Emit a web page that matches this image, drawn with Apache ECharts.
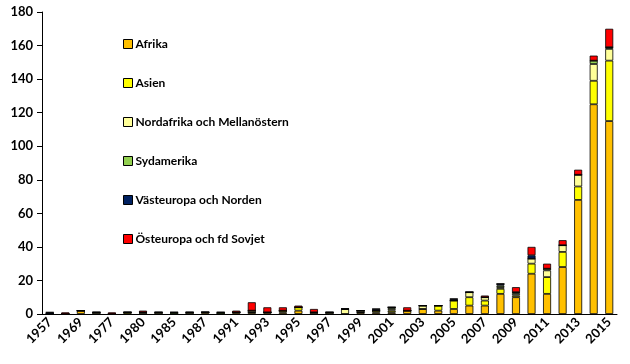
<!DOCTYPE html>
<html><head><meta charset="utf-8">
<script src="https://cdn.jsdelivr.net/npm/echarts@6/dist/echarts.min.js"></script>
<style>html,body{margin:0;padding:0;background:#fff}#c{width:630px;height:364px}</style>
</head><body><div id="c"></div>
<script>
var years = ['1957','1967','1969','1973','1977','1979','1980','1983','1985','1986','1987','1989','1991','1992','1993','1994','1995','1996','1997','1998','1999','2000','2001','2002','2003','2004','2005','2006','2007','2008','2009','2010','2011','2012','2013','2014','2015'];
var afrika      = [0,0,2,0,0,0,0,0,0,0,1,0,1,1,1,1,2,0,0,0,1,1,1,2,3,2,3,5,5,12,10,24,12,28,68,125,115];
var asien       = [0,0,0,0,0,1,0,0,0,0,0,0,0,0,0,1,2,0,0,0,0,1,1,0,0,3,5,5,3,3,1,6,10,9,8,14,36];
var nordafrika  = [0,0,0,1,0,0,1,1,0,1,0,0,0,1,0,0,0,1,1,3,1,0,1,0,2,0,0,3,2,1,1,3,4,4,7,10,7];
var sydamerika  = [0,0,0,0,0,0,0,0,1,0,0,1,0,0,0,0,0,0,0,0,0,0,1,0,0,0,0,0,0,1,1,0,1,0,0,2,1];
var vasteuropa  = [1,0,0,0,0,0,0,0,0,0,0,0,0,0,0,0,0,0,0,0,0,1,0,0,0,0,1,0,0,1,0,2,0,0,0,0,0];
var osteuropa   = [0,1,0,0,1,0,1,0,0,0,0,0,1,5,3,2,1,2,0,0,0,0,0,2,0,0,0,0,1,0,3,5,3,3,3,3,11];
var seriesNames = ['Afrika','Asien','Nordafrika och Mellanöstern','Sydamerika','Västeuropa och Norden','Östeuropa och fd Sovjet'];
var seriesData = [afrika, asien, nordafrika, sydamerika, vasteuropa, osteuropa];
var colors = ['#FFC000','#FFFF00','#FFFF99','#92D050','#002060','#FF0000'];

var font = 'Lato, "Open Sans", sans-serif';
var chart = echarts.init(document.getElementById('c'));
chart.setOption({
  animation: false,
  color: colors,
  grid: {left: 42, right: 13, top: 12, bottom: 50},
  legend: {
    orient: 'vertical', left: 118, top: 33, itemGap: 27,
    itemWidth: 9, itemHeight: 9, icon: 'rect',
    itemStyle: {borderColor: '#000', borderWidth: 1},
    textStyle: {fontFamily: font, fontWeight: 'bold', fontSize: 12, color: '#000', padding: [0,0,0,-2]},
    data: seriesNames
  },
  xAxis: {
    type: 'category', data: years,
    axisLine: {lineStyle: {color: '#000', width: 1}},
    axisTick: {interval: 0, length: 5, lineStyle: {color: '#000'}},
    axisLabel: {interval: 1, rotate: 45, fontFamily: font, fontWeight: 'bold', fontSize: 13, color: '#000', margin: 6}
  },
  yAxis: {
    type: 'value', min: 0, max: 180, interval: 20,
    axisLine: {show: true, lineStyle: {color: '#000', width: 1}},
    axisTick: {show: true, length: 5, lineStyle: {color: '#000'}},
    splitLine: {show: false},
    axisLabel: {fontFamily: font, fontWeight: 'bold', fontSize: 13, color: '#000', margin: 9}
  },
  series: seriesNames.map(function(n, i){
    return {
      name: n, type: 'bar', stack: 'total', barWidth: 8,
      data: seriesData[i],
      itemStyle: {color: colors[i], borderColor: '#000', borderWidth: 0.8}
    };
  })
});
</script></body></html>
